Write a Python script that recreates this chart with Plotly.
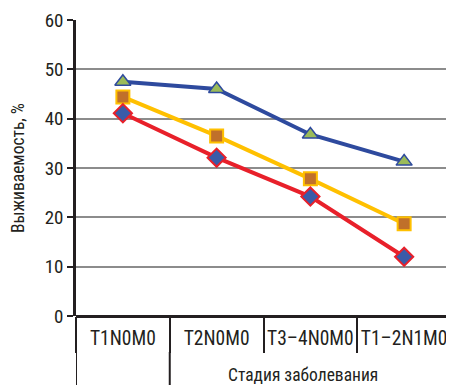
import plotly.graph_objects as go

categories = ["T1N0M0", "T2N0M0", "T3\u20134N0M0", "T1\u20132N1M0"]
series_blue = [47.5, 46.0, 36.8, 31.3]
series_orange = [44.4, 36.5, 27.8, 18.7]
series_red = [41.1, 32.1, 24.2, 12.0]
y_ticks = [0, 10, 20, 30, 40, 50, 60]

FONT = "Liberation Sans Narrow, Roboto Condensed, Liberation Sans, Arial, sans-serif"
INK = "#231F20"

fig = go.Figure()
fig.add_trace(go.Scatter(
    x=categories, y=series_blue, mode="lines+markers",
    line=dict(color="#2E4A9E", width=4),
    marker=dict(symbol="triangle-up", size=14, color="#9BBB59",
                line=dict(color="#2E4A9E", width=1.5)),
))
fig.add_trace(go.Scatter(
    x=categories, y=series_orange, mode="lines+markers",
    line=dict(color="#FFC000", width=4),
    marker=dict(symbol="square", size=13, color="#C0702A",
                line=dict(color="#FFC000", width=2)),
))
fig.add_trace(go.Scatter(
    x=categories, y=series_red, mode="lines+markers",
    line=dict(color="#E8202A", width=4),
    marker=dict(symbol="diamond", size=14, color="#3A5BA8",
                line=dict(color="#E8202A", width=2)),
))

PLOT_H = 296
ext = dict(type="line", xref="x", yref="paper", y0=-36 / PLOT_H, y1=-72 / PLOT_H,
           line=dict(color=INK, width=2))

fig.update_layout(
    width=446, height=377,
    margin=dict(l=68, r=3, t=12, b=69),
    paper_bgcolor="white", plot_bgcolor="white",
    showlegend=False,
    font=dict(family=FONT, size=16, color=INK),
    xaxis=dict(
        type="category", range=[-0.5, 3.5], automargin=False,
        tickson="boundaries", ticks="outside", ticklen=36, tickwidth=2,
        tickcolor=INK, showgrid=False, showline=False, tickangle=0,
        tickfont=dict(size=19.5), ticklabelstandoff=8,
    ),
    yaxis=dict(
        range=[0, 60], tickvals=y_ticks, ticks="outside", ticklen=6,
        tickwidth=1.5, tickcolor=INK, automargin=False,
        showgrid=True, gridcolor="#8C8C8C", gridwidth=1.5,
        showline=True, linecolor=INK, linewidth=2.5,
        zeroline=True, zerolinecolor=INK, zerolinewidth=2.5,
        tickfont=dict(size=19),
    ),
    shapes=[
        dict(ext, x0=-0.5, x1=-0.5),
        dict(ext, x0=0.5, x1=0.5),
        dict(ext, x0=3.5, x1=3.5),
    ],
    annotations=[
        dict(text="Выживаемость, %", xref="paper", yref="paper", x=-58 / 375, y=0.5,
             textangle=-90, showarrow=False, xanchor="center", yanchor="middle",
             font=dict(size=17.5)),
        dict(text="Стадия заболевания", xref="x", yref="paper", x=1.92, y=-59 / PLOT_H,
             showarrow=False, xanchor="center", yanchor="middle",
             font=dict(size=17.5)),
    ],
)

fig.write_html("out.html")
